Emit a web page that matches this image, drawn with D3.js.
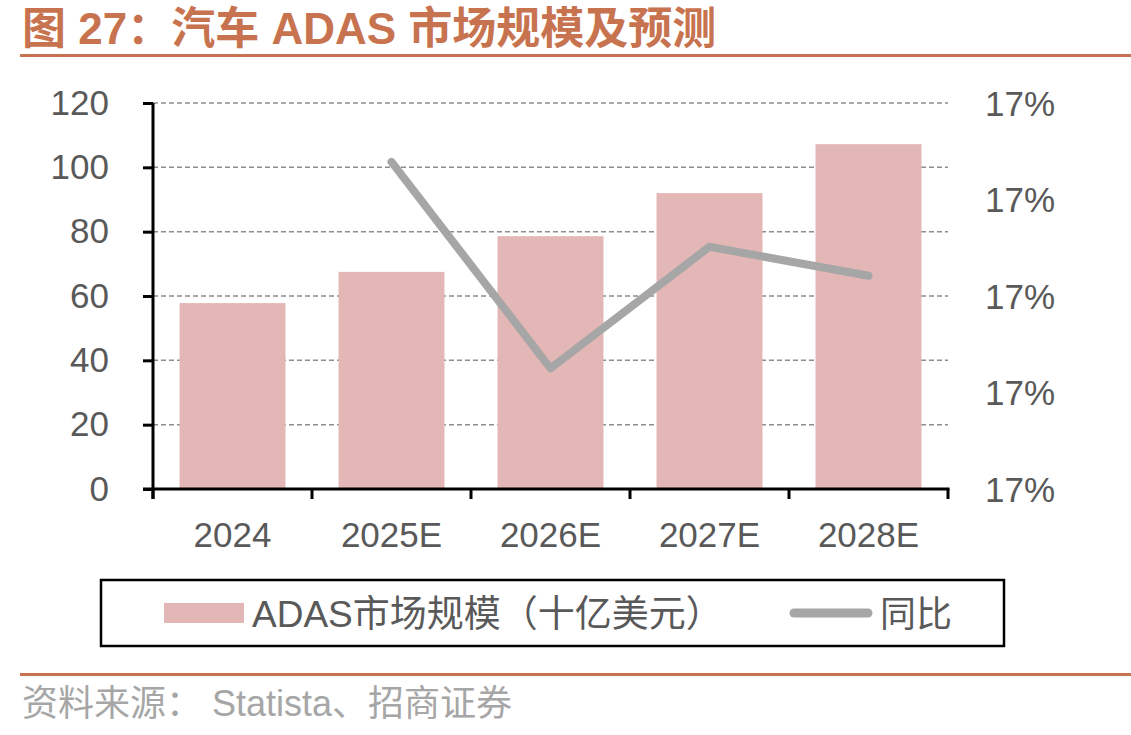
<!DOCTYPE html>
<html>
<head>
<meta charset="utf-8">
<script src="https://cdn.jsdelivr.net/npm/d3@7"></script>
<style>
  html, body { margin: 0; padding: 0; background: #fff; }
  svg { display: block; font-family: "Liberation Sans", Arial, "Noto Sans CJK SC", sans-serif; }
</style>
</head>
<body>
<div id="chart"></div>
<script>
(function () {
  const categories = ["2024", "2025E", "2026E", "2027E", "2028E"];
  const marketSize = [57.8, 67.5, 78.6, 92.0, 107.2];   // 十亿美元
  // 同比 (right axis); 2024 has no value
  const yoy = [null, 0.17139, 0.16925, 0.17051, 0.17021];
  const leftTicks = [0, 20, 40, 60, 80, 100, 120];
  const rightTicks = [0.168, 0.169, 0.170, 0.171, 0.172];

  const W = 1131, H = 735;
  const plot = {left: 153, right: 948, top: 103, bottom: 489};
  const accent = "#C8734F";
  const textColor = "#595959";
  const barColor = "#E4B7B7";
  const lineColor = "#A6A6A6";

  const svg = d3.select("#chart").append("svg")
    .attr("width", W)
    .attr("height", H);

  // title
  svg.append("text")
    .attr("x", 22)
    .attr("y", 44)
    .attr("fill", accent)
    .attr("font-size", 44)
    .attr("font-weight", "bold")
    .text("图 27：汽车 ADAS 市场规模及预测");

  svg.append("rect").attr("x", 20).attr("y", 54).attr("width", W - 20).attr("height", 3).attr("fill", accent);
  svg.append("rect").attr("x", 20).attr("y", 673).attr("width", W - 20).attr("height", 3).attr("fill", accent);

  const x = d3.scaleBand()
    .domain(categories)
    .range([plot.left, plot.right])
    .paddingInner(1 / 3)
    .paddingOuter(1 / 6);

  const y = d3.scaleLinear()
    .domain([0, 120])
    .range([plot.bottom, plot.top]);

  const yRight = d3.scaleLinear()
    .domain([rightTicks[0], rightTicks[rightTicks.length - 1]])
    .range([plot.bottom, plot.top]);

  // gridlines
  svg.append("g")
    .selectAll("line")
    .data(leftTicks.filter(function (d) { return d > 0; }))
    .join("line")
    .attr("x1", plot.left)
    .attr("x2", plot.right)
    .attr("y1", function (d) { return y(d); })
    .attr("y2", function (d) { return y(d); })
    .attr("stroke", "#8C8C8C")
    .attr("stroke-width", 1.5)
    .attr("stroke-dasharray", "5,3");

  // bars
  svg.append("g")
    .selectAll("rect")
    .data(categories)
    .join("rect")
    .attr("x", function (d) { return x(d); })
    .attr("width", x.bandwidth())
    .attr("y", function (d, i) { return y(marketSize[i]); })
    .attr("height", function (d, i) { return y(0) - y(marketSize[i]); })
    .attr("fill", barColor);

  // line
  const line = d3.line()
    .defined(function (d) { return d.v !== null; })
    .x(function (d) { return x(d.c) + x.bandwidth() / 2; })
    .y(function (d) { return yRight(d.v); });

  svg.append("path")
    .datum(categories.map(function (c, i) { return {c: c, v: yoy[i]}; }))
    .attr("d", line)
    .attr("fill", "none")
    .attr("stroke", lineColor)
    .attr("stroke-width", 8)
    .attr("stroke-linecap", "round")
    .attr("stroke-linejoin", "round");

  // left axis
  const leftAxis = svg.append("g")
    .attr("transform", "translate(" + plot.left + ",0)")
    .call(d3.axisLeft(y).tickValues(leftTicks).tickSize(10).tickPadding(34));
  leftAxis.select(".domain").attr("stroke", "#000").attr("stroke-width", 3)
    .attr("d", "M0," + (plot.bottom + 10) + "V" + plot.top);
  leftAxis.selectAll(".tick line").attr("stroke", "#000").attr("stroke-width", 3);
  leftAxis.selectAll(".tick text")
    .attr("fill", textColor)
    .attr("font-size", 35)
    .attr("font-family", "Liberation Sans, Arial, sans-serif");

  // bottom axis: ticks on category boundaries
  const step = x.step();
  const gap = step - x.bandwidth();
  const bounds = categories.map(function (c) { return x(c) - gap / 2; })
    .concat([x(categories[categories.length - 1]) + x.bandwidth() + gap / 2]);

  const bottom = svg.append("g");
  bottom.append("line")
    .attr("x1", plot.left - 10).attr("x2", plot.right + 1.5)
    .attr("y1", plot.bottom).attr("y2", plot.bottom)
    .attr("stroke", "#000").attr("stroke-width", 3);
  bottom.selectAll("line.tk")
    .data(bounds)
    .join("line")
    .attr("class", "tk")
    .attr("x1", function (d) { return d; })
    .attr("x2", function (d) { return d; })
    .attr("y1", plot.bottom)
    .attr("y2", plot.bottom + 10)
    .attr("stroke", "#000").attr("stroke-width", 3);
  bottom.selectAll("text")
    .data(categories)
    .join("text")
    .attr("x", function (d) { return x(d) + x.bandwidth() / 2; })
    .attr("y", 547)
    .attr("text-anchor", "middle")
    .attr("fill", textColor)
    .attr("font-size", 35)
    .text(function (d) { return d; });

  // right axis labels (no axis line)
  svg.append("g")
    .selectAll("text")
    .data(rightTicks)
    .join("text")
    .attr("x", 985)
    .attr("y", function (d) { return yRight(d); })
    .attr("dy", "0.36em")
    .attr("fill", textColor)
    .attr("font-size", 35)
    .text(d3.format(".0%"));

  // legend
  const legend = svg.append("g");
  legend.append("rect")
    .attr("x", 101).attr("y", 580).attr("width", 903).attr("height", 66)
    .attr("fill", "none").attr("stroke", "#000").attr("stroke-width", 2.5);
  legend.append("rect")
    .attr("x", 164).attr("y", 603).attr("width", 80).attr("height", 20)
    .attr("fill", barColor);
  legend.append("text")
    .attr("x", 252).attr("y", 627)
    .attr("fill", textColor).attr("font-size", 37)
    .text("ADAS市场规模（十亿美元）");
  legend.append("line")
    .attr("x1", 794).attr("x2", 868).attr("y1", 613).attr("y2", 613)
    .attr("stroke", lineColor).attr("stroke-width", 9).attr("stroke-linecap", "round");
  legend.append("text")
    .attr("x", 880).attr("y", 627)
    .attr("fill", textColor).attr("font-size", 36)
    .text("同比");

  // source
  svg.append("text")
    .attr("x", 22).attr("y", 716)
    .attr("fill", "#A6A6A6").attr("font-size", 36)
    .text("资料来源： Statista、招商证券");
})();
</script>
</body>
</html>
